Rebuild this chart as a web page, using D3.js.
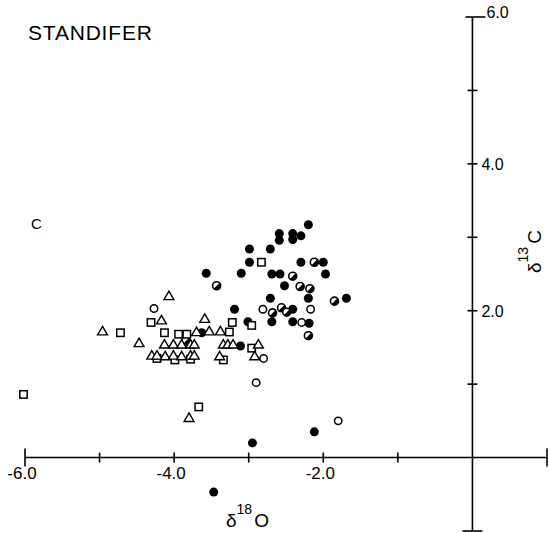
<!DOCTYPE html>
<html>
<head>
<meta charset="utf-8">
<script src="https://cdn.jsdelivr.net/npm/d3@7"></script>
<style>
  body { margin: 0; background: #fff; }
  svg { display: block; }
  text { font-family: "Liberation Sans", Arial, sans-serif; fill: #000; }
</style>
</head>
<body>
<svg class="chart" width="549" height="533"></svg>
<script>
// delta18O, delta13C pairs
var filledCircles = [
  [-2.20, 3.17], [-2.59, 3.05], [-2.59, 2.96], [-2.41, 3.05], [-2.41, 2.97], [-2.30, 3.02],
  [-2.99, 2.84], [-2.71, 2.84], [-2.99, 2.66], [-2.30, 2.66], [-2.00, 2.66],
  [-3.57, 2.51], [-3.10, 2.51], [-2.69, 2.50], [-2.58, 2.50], [-1.97, 2.50],
  [-2.52, 2.34], [-2.71, 2.17], [-2.20, 2.17], [-1.69, 2.17],
  [-3.19, 2.02], [-2.41, 2.02], [-3.01, 1.85], [-2.69, 1.85], [-2.41, 1.85], [-2.19, 1.83],
  [-3.63, 1.70], [-3.11, 1.52], [-2.12, 0.35], [-2.95, 0.20], [-3.47, -0.47]
];
var halfCircles = [
  [-3.43, 2.34], [-2.41, 2.47], [-2.31, 2.33], [-2.18, 2.30], [-2.12, 2.66], [-1.85, 2.13],
  [-2.68, 1.97], [-2.56, 2.04], [-2.49, 1.98], [-2.20, 1.66], [-3.84, 1.59]
];
var openCircles = [
  [-4.27, 2.03], [-2.81, 2.02], [-2.17, 2.02], [-2.29, 1.84], [-2.80, 1.35], [-2.90, 1.02], [-1.80, 0.50]
];
var squares = [
  [-2.83, 2.66], [-4.31, 1.84], [-3.22, 1.84], [-2.96, 1.80], [-4.72, 1.70], [-4.13, 1.70],
  [-3.94, 1.68], [-3.83, 1.68], [-3.26, 1.71], [-2.96, 1.49], [-4.23, 1.35], [-3.99, 1.33],
  [-3.78, 1.34], [-3.34, 1.33], [-6.02, 0.86], [-3.67, 0.69]
];
var triangles = [
  [-4.07, 2.19], [-4.17, 1.86], [-3.59, 1.88], [-4.96, 1.71], [-3.70, 1.70], [-3.53, 1.71], [-3.38, 1.71],
  [-4.47, 1.55], [-4.13, 1.53], [-4.01, 1.53], [-3.90, 1.53], [-3.78, 1.53], [-3.73, 1.53],
  [-3.34, 1.53], [-3.28, 1.53], [-3.21, 1.53], [-2.87, 1.53],
  [-4.30, 1.38], [-4.23, 1.38], [-4.12, 1.37], [-4.01, 1.38], [-3.90, 1.37], [-3.78, 1.38], [-3.73, 1.38],
  [-3.39, 1.37], [-2.92, 1.37], [-3.80, 0.53]
];

var xTicks = [-6, -5, -4, -3, -2, -1, 0, 1];
var xTickLabels = {"-6": "-6.0", "-4": "-4.0", "-2": "-2.0"};
var yTicks = [-1, 0, 1, 2, 3, 4, 5, 6];
var yTickLabels = {"2": "2.0", "4": "4.0", "6": "6.0"};

var svg = d3.select(".chart");

var x = d3.scaleLinear().domain([-6, 1]).range([25, 547]);
var y = d3.scaleLinear().domain([-1, 6]).range([531, 17]);

var axes = svg.append("g").attr("stroke", "#000").attr("stroke-width", 1.6).attr("fill", "none");

// x axis along delta13C = 0
axes.append("line").attr("x1", x(-6)).attr("x2", x(1)).attr("y1", y(0)).attr("y2", y(0));
xTicks.forEach(function(t) {
  var len = (t == -6 || t == 1) ? 9 : 5;
  if (t == 0) return;
  axes.append("line").attr("x1", x(t)).attr("x2", x(t))
    .attr("y1", y(0) - len).attr("y2", y(0) + len);
});

// y axis along delta18O = 0
axes.append("line").attr("x1", x(0)).attr("x2", x(0)).attr("y1", y(6)).attr("y2", y(-1));
yTicks.forEach(function(t) {
  if (t == 0) return;
  var x1 = x(0) - 5, x2 = x(0) + 5;
  if (t == 6) { x1 = x(0) - 7; x2 = x(0) + 13; }
  if (t == -1) { x1 = x(0) - 10; x2 = x(0) + 10; }
  axes.append("line").attr("x1", x1).attr("x2", x2).attr("y1", y(t)).attr("y2", y(t));
});

// tick labels
Object.keys(xTickLabels).forEach(function(k) {
  svg.append("text").attr("x", x(+k) - 3).attr("y", y(0) + 21)
    .attr("text-anchor", "middle").attr("font-size", 17).text(xTickLabels[k]);
});
Object.keys(yTickLabels).forEach(function(k) {
  svg.append("text").attr("x", x(0) + (k == "6" ? 14 : 9)).attr("y", y(+k) + (k == "6" ? 1 : 6))
    .attr("font-size", 16).text(yTickLabels[k]);
});

// titles
svg.append("text").attr("x", 28).attr("y", 40).attr("font-size", 21)
  .attr("letter-spacing", 0.8).text("STANDIFER");
svg.append("text").attr("x", 31).attr("y", 229).attr("font-size", 15).text("C");

var xl = svg.append("text").attr("x", 226).attr("y", 527).attr("font-size", 19);
xl.append("tspan").text("δ");
xl.append("tspan").attr("font-size", 14).attr("dy", -13).text("18");
xl.append("tspan").attr("dy", 13).attr("dx", 2).text("O");

var yl = svg.append("text").attr("transform", "translate(541,273) rotate(-90)").attr("font-size", 19);
yl.append("tspan").text("δ");
yl.append("tspan").attr("font-size", 14).attr("dy", -13).text("13");
yl.append("tspan").attr("dy", 13).attr("dx", 3).text("C");

// symbols
var marks = svg.append("g");

marks.selectAll("circle.filled").data(filledCircles).enter().append("circle")
  .attr("class", "filled")
  .attr("cx", function(d) { return x(d[0]); })
  .attr("cy", function(d) { return y(d[1]); })
  .attr("r", 4.5).attr("fill", "#000");

marks.selectAll("circle.open").data(openCircles).enter().append("circle")
  .attr("class", "open")
  .attr("cx", function(d) { return x(d[0]); })
  .attr("cy", function(d) { return y(d[1]); })
  .attr("r", 3.7).attr("fill", "#fff").attr("stroke", "#000").attr("stroke-width", 1.5);

var halfArc = d3.arc().innerRadius(0).outerRadius(4)
  .startAngle(Math.PI / 4).endAngle(Math.PI * 5 / 4);
var half = marks.selectAll("g.half").data(halfCircles).enter().append("g")
  .attr("class", "half")
  .attr("transform", function(d) { return "translate(" + x(d[0]) + "," + y(d[1]) + ")"; });
half.append("circle").attr("r", 4).attr("fill", "#fff").attr("stroke", "#000").attr("stroke-width", 1.6);
half.append("path").attr("d", halfArc).attr("fill", "#000");

marks.selectAll("rect.sq").data(squares).enter().append("rect")
  .attr("class", "sq")
  .attr("x", function(d) { return x(d[0]) - 3.7; })
  .attr("y", function(d) { return y(d[1]) - 3.7; })
  .attr("width", 7.4).attr("height", 7.4)
  .attr("fill", "#fff").attr("stroke", "#000").attr("stroke-width", 1.5);

var tri = d3.symbol().type(d3.symbolTriangle).size(42);
marks.selectAll("path.tri").data(triangles).enter().append("path")
  .attr("class", "tri")
  .attr("transform", function(d) { return "translate(" + x(d[0]) + "," + y(d[1]) + ")"; })
  .attr("d", tri)
  .attr("fill", "#fff").attr("stroke", "#000").attr("stroke-width", 1.4);
</script>
</body>
</html>
